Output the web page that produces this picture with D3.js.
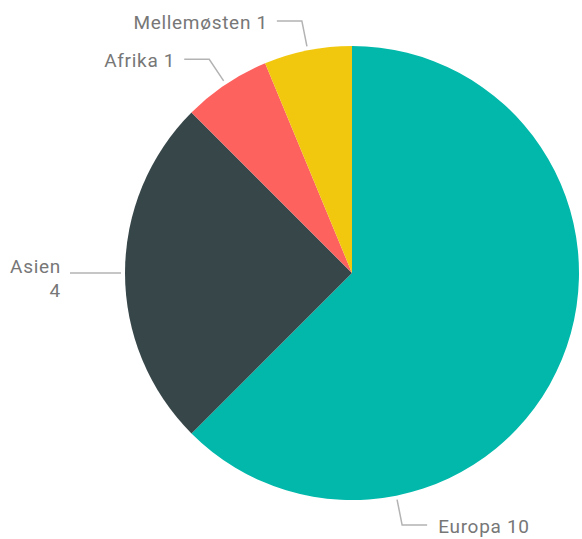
<!DOCTYPE html>
<html><head><meta charset="utf-8">
<script src="https://cdn.jsdelivr.net/npm/d3@7"></script>
<style>body{margin:0;background:#fff}</style>
</head><body>
<svg id="c" width="582" height="539"></svg>
<script>
const categories = ["Europa", "Asien", "Afrika", "Mellemøsten"];
const values = [10, 4, 1, 1];
const colors = ["#01B8AA", "#374649", "#FD625E", "#F2C80F"];

const svg = d3.select("#c");
const cx = 352, cy = 273, R = 227;
const g = svg.append("g").attr("transform", `translate(${cx},${cy})`);
const data = categories.map((c, i) => ({ c, v: values[i], col: colors[i] }));
const pie = d3.pie().value(d => d.v).sort(null);
const arcs = pie(data);
const arc = d3.arc().innerRadius(0).outerRadius(R);
g.selectAll("path.s").data(arcs).join("path").attr("class", "s")
  .attr("d", arc).attr("fill", d => d.data.col);

const labelAngle = d => d.data.c === "Europa" ? d.startAngle + (d.endAngle - d.startAngle) * 0.75 : (d.startAngle + d.endAngle) / 2;
const pt = (a, r) => [Math.sin(a) * r, -Math.cos(a) * r];
arcs.forEach(d => {
  const a = labelAngle(d);
  const p0 = pt(a, R + 4), p1 = pt(a, R + 30);
  const right = Math.sin(a) > 0.01;
  const p2 = [p1[0] + (right ? 25 : -25), p1[1]];
  g.append("polyline").attr("points", [p0, p1, p2].map(p => p.join(",")).join(" "))
    .attr("fill", "none").attr("stroke", "#b3b3b3").attr("stroke-width", 1.5);
  const t = g.append("text").attr("x", p2[0] + (right ? 11 : -9)).attr("y", p2[1])
    .attr("text-anchor", right ? "start" : "end")
    .attr("font-family", "Roboto, sans-serif").attr("font-size", 19)
    .attr("letter-spacing", 0.7).attr("fill", "#777");
  if (d.data.c === "Asien") {
    t.append("tspan").attr("x", p2[0] - 9).attr("dy", "0").text(d.data.c);
    t.append("tspan").attr("x", p2[0] - 9).attr("dy", "1.25em").text(d.data.v);
  } else {
    t.attr("dy", "0.4em").text(d.data.c + " " + d.data.v);
  }
});
</script>
</body></html>
